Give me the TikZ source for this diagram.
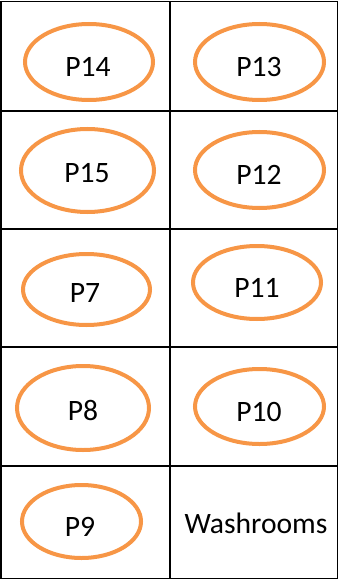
\documentclass[tikz,border=0pt]{standalone}
\usepackage{fontspec}
\setmainfont{Carlito}
\usetikzlibrary{shapes.geometric}
\definecolor{spotorange}{HTML}{F79646}

\begin{document}
\begin{tikzpicture}[x=1pt, y=-1pt,
		spot/.style={ellipse, draw=spotorange, line width=4pt, inner sep=0pt},
		tag/.style={inner sep=0pt, font=\fontsize{29.6}{30}\selectfont},
		grid/.style={draw=black, line width=1.4pt}]
			\useasboundingbox (0,0) rectangle (339,580);
			
			% table
			\draw[grid] (1,1.5) rectangle (337.5,578.5);
			\draw[grid] (170,1.5) -- (170,578.5);
			\foreach \y in {111,229,347,466}
				\draw[grid] (1,\y) -- (337.5,\y);
			
			% parking spots
			\node[spot, minimum width=128pt, minimum height=76pt] (s14) at (89,62){};
			\node[spot, minimum width=129pt, minimum height=76pt] (s13) at (259.5,62){};
			\node[spot, minimum width=133pt, minimum height=83pt] (s15) at (87.5,170.5){};
			\node[spot, minimum width=129pt, minimum height=76pt] (s12) at (259.5,170){};
			\node[spot, minimum width=127pt, minimum height=71pt] (s7) at (86.5,289.5){};
			\node[spot, minimum width=128pt, minimum height=73pt] (s11) at (257,282.5){};
			\node[spot, minimum width=132pt, minimum height=84pt] (s8) at (83,408){};
			\node[spot, minimum width=129pt, minimum height=75pt] (s10) at (259.5,406.5){};
			\node[spot, minimum width=119pt, minimum height=73pt] (s9) at (81.5,521.5){};
			
			\node[tag] (p14) at (88,66.5){P14};
			\node[tag] (p13) at (259,67){P13};
			\node[tag] (p15) at (87,173){P15};
			\node[tag] (p12) at (259,175){P12};
			\node[tag] (p7) at (85,293.5){P7};
			\node[tag] (p11) at (257,288){P11};
			\node[tag] (p8) at (83,410){P8};
			\node[tag] (p10) at (259,412){P10};
			\node[tag] (p9) at (80,527){P9};
			\node[tag] (wash) at (256,523){Washrooms};
\end{tikzpicture}
\end{document}
